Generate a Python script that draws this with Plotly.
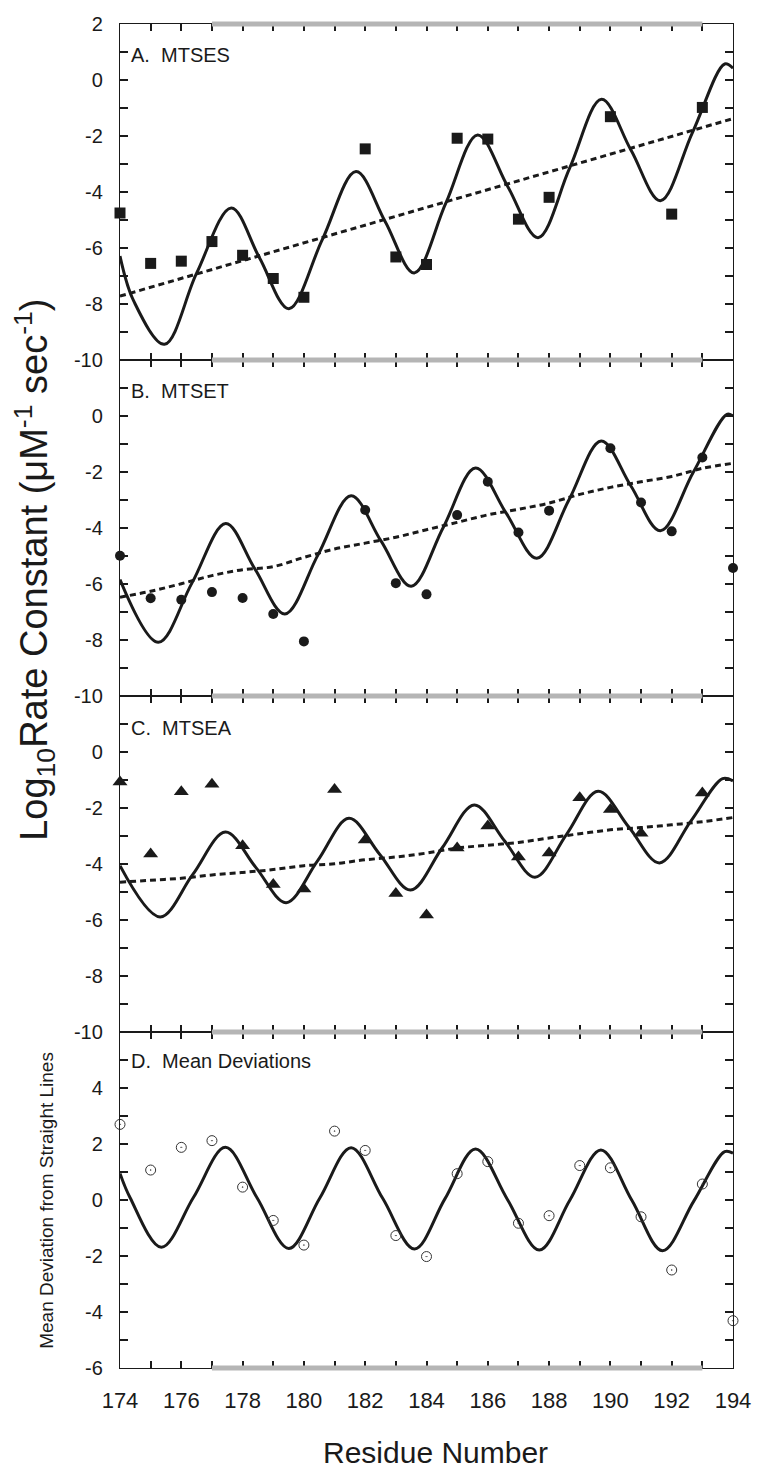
import plotly.graph_objects as go
from plotly.subplots import make_subplots

# ---------------- data ----------------
RESIDUES = list(range(174, 195))

# Panel A: MTSES (squares)
A_X = [174, 175, 176, 177, 178, 179, 180, 182, 183, 184, 185, 186, 187, 188, 190, 192, 193]
A_Y = [-4.75, -6.55, -6.47, -5.77, -6.26, -7.09, -7.76, -2.46, -6.32, -6.59, -2.08, -2.11,
       -4.97, -4.19, -1.31, -4.79, -0.98]
A_FIT_X = [174.0, 174.45, 175.45, 176.5, 177.63, 178.55, 179.51, 180.6, 181.70, 182.65, 183.6,
           184.63, 185.67, 186.65, 187.64, 188.67, 189.71, 190.67, 191.63, 192.68, 193.73, 194.0]
A_FIT_Y = [-6.29, -7.9, -9.44, -6.9, -4.57, -6.35, -8.17, -5.7, -3.27, -5.05, -6.89,
           -4.4, -1.96, -3.8, -5.63, -3.15, -0.69, -2.5, -4.31, -1.87, 0.57, 0.42]
A_LIN_X = [174, 194]
A_LIN_Y = [-7.72, -1.38]

# Panel B: MTSET (circles)
B_X = [174, 175, 176, 177, 178, 179, 180, 182, 183, 184, 185, 186, 187, 188, 190, 191, 192, 193, 194]
B_Y = [-4.99, -6.51, -6.56, -6.29, -6.50, -7.07, -8.05, -3.36, -5.97, -6.37, -3.54, -2.35,
       -4.16, -3.38, -1.15, -3.09, -4.12, -1.48, -5.43]
B_FIT_X = [174.0, 175.25, 176.35, 177.45, 178.4, 179.38, 180.46, 181.54, 182.52, 183.5, 184.55,
           185.6, 186.6, 187.6, 188.65, 189.7, 190.67, 191.63, 192.7, 193.8, 194.0]
B_FIT_Y = [-5.84, -8.08, -5.96, -3.84, -5.46, -7.07, -4.96, -2.85, -4.47, -6.08, -3.97,
           -1.86, -3.47, -5.08, -2.99, -0.89, -2.5, -4.1, -2.02, 0.06, 0.0]
B_LIN_X = RESIDUES
B_LIN_Y = [-6.47, -6.26, -5.99, -5.70, -5.49, -5.38, -5.05, -4.75, -4.54, -4.33, -4.06,
           -3.80, -3.53, -3.33, -3.11, -2.80, -2.55, -2.35, -2.16, -1.87, -1.69]

# Panel C: MTSEA (triangles)
C_X = [174, 175, 176, 177, 178, 179, 180, 181, 182, 183, 184, 185, 186, 187, 188, 189, 190, 191, 193]
C_Y = [-1.07, -3.64, -1.42, -1.15, -3.35, -4.73, -4.89, -1.34, -3.14, -5.05, -5.82, -3.43,
       -2.64, -3.75, -3.61, -1.63, -2.05, -2.90, -1.46]
C_FIT_X = [174.0, 175.31, 176.37, 177.44, 178.43, 179.42, 180.45, 181.47, 182.47, 183.48, 184.52,
           185.56, 186.55, 187.54, 188.57, 189.6, 190.6, 191.6, 192.63, 193.66, 194.0]
C_FIT_Y = [-4.06, -5.89, -4.38, -2.86, -4.12, -5.38, -3.88, -2.37, -3.65, -4.93, -3.41,
           -1.89, -3.18, -4.47, -2.94, -1.40, -2.68, -3.96, -2.46, -0.95, -1.03]
C_LIN_X = RESIDUES
C_LIN_Y = [-4.65, -4.58, -4.51, -4.39, -4.30, -4.20, -4.06, -3.99, -3.85, -3.75, -3.61,
           -3.43, -3.33, -3.23, -3.07, -2.92, -2.78, -2.70, -2.60, -2.49, -2.34]

# Panel D: mean deviations (open circles)
D_X = RESIDUES
D_Y = [2.70, 1.07, 1.88, 2.12, 0.46, -0.73, -1.61, 2.46, 1.77, -1.27, -2.02, 0.94, 1.37,
       -0.83, -0.56, 1.23, 1.15, -0.60, -2.50, 0.57, -4.31]
D_FIT_X = [174.0, 174.33, 175.35, 176.4, 177.44, 178.47, 179.51, 180.52, 181.54, 182.57, 183.61,
           184.6, 185.6, 186.64, 187.68, 188.68, 189.69, 190.7, 191.7, 192.72, 193.73, 194.0]
D_FIT_Y = [0.95, 0.08, -1.69, 0.1, 1.88, 0.08, -1.73, 0.07, 1.87, 0.06, -1.75,
           0.04, 1.82, 0.02, -1.79, 0.0, 1.79, -0.01, -1.81, -0.04, 1.73, 1.67]

PANEL_LABELS = ["A.\u00a0 MTSES", "B.\u00a0 MTSET", "C.\u00a0 MTSEA", "D.\u00a0 Mean Deviations"]
LABEL_Y = [0.9, 0.9, 0.85, 4.98]

X_TICKS = RESIDUES
X_TICK_TEXT = [str(r) if r % 2 == 0 else "" for r in RESIDUES]

Y_TICKS_ABC = list(range(-10, 3))
Y_TEXT_A = [str(v) if v % 2 == 0 else "" for v in Y_TICKS_ABC]
Y_TEXT_BC = [str(v) if (v % 2 == 0 and v < 2) else "" for v in Y_TICKS_ABC]
Y_TICKS_D = list(range(-6, 7))
Y_TEXT_D = [str(v) if (v % 2 == 0 and v < 6) else "" for v in Y_TICKS_D]

HELIX_START, HELIX_END = 177, 193

# ---------------- figure ----------------
FONT = "Liberation Sans Narrow, Arial Narrow, Liberation Sans, Arial, sans-serif"
INK = "#1a1a1a"

fig = make_subplots(rows=4, cols=1, shared_xaxes=True, vertical_spacing=0)

panels = [
    (A_X, A_Y, A_FIT_X, A_FIT_Y, A_LIN_X, A_LIN_Y, dict(symbol="square", size=11, color=INK)),
    (B_X, B_Y, B_FIT_X, B_FIT_Y, B_LIN_X, B_LIN_Y, dict(symbol="circle", size=10, color=INK)),
    (C_X, C_Y, C_FIT_X, C_FIT_Y, C_LIN_X, C_LIN_Y, dict(symbol="triangle-up", size=13, color=INK)),
    (D_X, D_Y, D_FIT_X, D_FIT_Y, None, None,
     dict(symbol="circle-open-dot", size=10, color="#333", line=dict(width=1, color="#333"))),
]

for i, (px, py, fx, fy, lx, ly, mk) in enumerate(panels, start=1):
    if lx is not None:
        fig.add_trace(go.Scatter(x=lx, y=ly, mode="lines", line_shape="spline",
                                 line=dict(color=INK, width=3, dash="6px,4px"),
                                 showlegend=False, hoverinfo="skip"), row=i, col=1)
    fig.add_trace(go.Scatter(x=fx, y=fy, mode="lines", line_shape="spline",
                             line=dict(color=INK, width=3, smoothing=1.0),
                             showlegend=False, hoverinfo="skip"), row=i, col=1)
    fig.add_trace(go.Scatter(x=px, y=py, mode="markers", marker=mk, cliponaxis=False,
                             showlegend=False), row=i, col=1)

fig.update_xaxes(range=[174, 194], showline=True, linecolor=INK, linewidth=1.3, mirror="ticks",
                 ticks="inside", ticklen=7, tickwidth=1.5, tickcolor=INK,
                 tickvals=X_TICKS, ticktext=X_TICK_TEXT, showgrid=False, zeroline=False,
                 tickfont=dict(family=FONT, size=22, color=INK), ticklabelstandoff=12)

for i in range(1, 4):
    fig.update_yaxes(range=[-10, 2], tickvals=Y_TICKS_ABC,
                     ticktext=Y_TEXT_A if i == 1 else Y_TEXT_BC, row=i, col=1)
fig.update_yaxes(range=[-6, 6], tickvals=Y_TICKS_D, ticktext=Y_TEXT_D, row=4, col=1)
fig.update_yaxes(showline=True, linecolor=INK, linewidth=1.3, mirror="ticks",
                 ticks="inside", ticklen=8, tickwidth=1.5, tickcolor=INK,
                 showgrid=False, zeroline=False, ticklabelstandoff=12,
                 tickfont=dict(family="Liberation Sans, Arial, sans-serif", size=20, color=INK))

# panel labels
for i, (txt, yv) in enumerate(zip(PANEL_LABELS, LABEL_Y), start=1):
    yref = "y" if i == 1 else f"y{i}"
    fig.add_annotation(x=174.3, y=yv, xref="x", yref=yref, text=txt, showarrow=False,
                       xanchor="left", yanchor="middle",
                       font=dict(family=FONT, size=20, color=INK))

# helix bars on the panel borders
for yb in [1.0, 0.75, 0.5, 0.25, 0.0]:
    fig.add_shape(type="line", xref="x4", yref="paper", x0=HELIX_START, x1=HELIX_END,
                  y0=yb, y1=yb, line=dict(color="#b5b5b5", width=5), layer="above")

# axis titles
fig.add_annotation(xref="paper", yref="paper", x=-0.140, y=0.594, textangle=-90,
                   xanchor="center", yanchor="middle",
                   text="Log<sub>10</sub>Rate Constant (μM<sup>-1</sup> sec<sup>-1</sup>)",
                   showarrow=False, font=dict(family=FONT, size=38, color=INK))
fig.add_annotation(xref="paper", yref="paper", x=-0.121, y=0.125, textangle=-90,
                   xanchor="center", yanchor="middle",
                   text="Mean Deviation from Straight Lines",
                   showarrow=False, font=dict(family=FONT, size=19, color=INK))
fig.add_annotation(xref="paper", yref="paper", x=0.515, y=-0.0625,
                   text="Residue Number", showarrow=False, xanchor="center", yanchor="middle",
                   font=dict(family=FONT, size=30, color=INK))

fig.update_layout(width=763, height=1469, margin=dict(l=120, r=23, t=24, b=101),
                  paper_bgcolor="white", plot_bgcolor="white")

fig.write_html("out.html")
